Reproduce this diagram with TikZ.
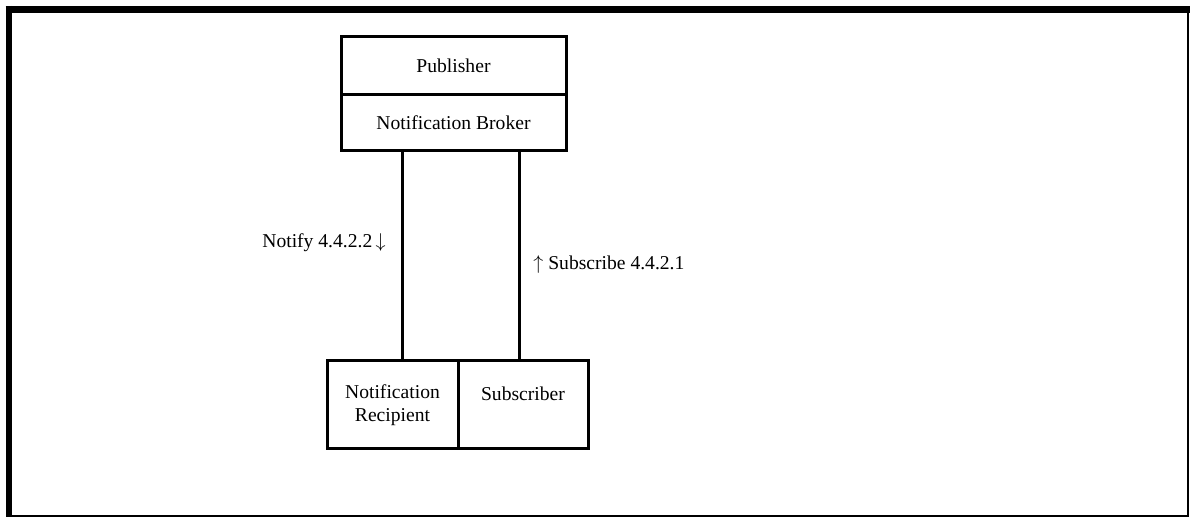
\documentclass[tikz,border=0pt]{standalone}
\usepackage{fontspec}
\setmainfont{Liberation Serif}
\usetikzlibrary{positioning}

\begin{document}
\begin{tikzpicture}[
			x=0.5pt, y=-0.5pt,
			font=\fontsize{9.8}{11.5}\selectfont,
			box/.style={draw, line width=1.5pt, inner sep=0pt, outer sep=0pt, align=center},
			wire/.style={line width=1.5pt}
			]
			\useasboundingbox (0,0) rectangle (1190,517);
			% Frame
			\draw[line width=3.2pt] (9,6) -- (9,517);
			\draw[line width=3.2pt] (5.5,9.5) -- (1189.5,9.5);
			\draw[line width=1.3pt] (1188,8) -- (1188,517);
			\draw[line width=1pt] (7,516) -- (1189,516);
			% Top boxes
			\node[box, minimum width=112.5pt, minimum height=29pt] (pub) at (453.5,66) {Publisher};
			\node[box, minimum width=112.5pt, minimum height=28pt, below=0pt of pub] (broker) {Notification Broker};
			% Bottom boxes
			\node[box, minimum width=65.5pt, minimum height=44pt] (recip) at (392.5,405) {Notification\\Recipient};
			\node[box, minimum width=65pt, minimum height=44pt, right=0pt of recip] (subscr) {Subscriber\\\mbox{}};
			% Connections
			\coordinate (n) at (402,0);
			\coordinate (s) at (519,0);
			\draw[wire] (broker.south -| n) -- (recip.north -| n);
			\draw[wire] (broker.south -| s) -- (subscr.north -| s);
			% Labels
			\node[anchor=east, inner sep=0pt] (notify) at (386,243) {Notify 4.4.2.2\,$\downarrow$};
			\node[anchor=west, inner sep=0pt] (subscribe) at (533,265) {$\uparrow$ Subscribe 4.4.2.1};
		\end{tikzpicture}
\end{document}
